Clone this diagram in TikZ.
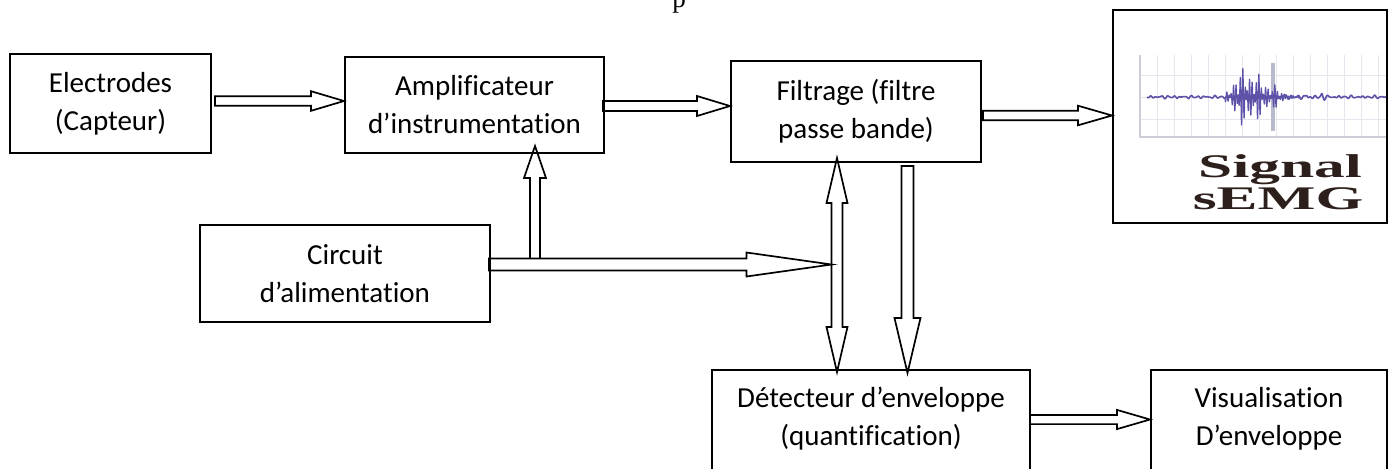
\documentclass[tikz,border=0pt]{standalone}
\usepackage{fontspec}
\setmainfont{Carlito}[Ligatures=NoCommon]
\newfontfamily\serifb{Liberation Serif}
\usepackage{graphicx}
\usetikzlibrary{calc}
\definecolor{sigc}{RGB}{92,82,168}
\definecolor{gridc}{RGB}{230,230,238}
\definecolor{axisc}{RGB}{205,205,215}
\definecolor{bandc}{RGB}{185,185,205}
\definecolor{sigtxt}{RGB}{45,32,28}

\tikzset{
  box/.style={draw, line width=1pt, inner sep=0pt, align=center,
    font=\fontsize{14.5pt}{19pt}\selectfont},
  txt/.style={inner sep=0pt, align=center, font=\fontsize{14.5pt}{19pt}\selectfont},
  blockline/.style={draw, line width=0.85pt, line join=miter},
  bigserif/.style={inner sep=0pt, anchor=base, text=sigtxt,
    font=\serifb\bfseries\fontsize{16.5pt}{16.5pt}\selectfont},
}

% #1 head length, #2 shaft half width, #3 head half width, #4 start, #5 tip
\newcommand{\blockarrow}[5]{%
  \coordinate (ba-s) at (#4);
  \coordinate (ba-t) at (#5);
  \coordinate (ba-h) at ($(ba-t)!#1!(ba-s)$);
  \path[blockline] ($(ba-s)!#2!90:(ba-t)$) -- ($(ba-h)!#2!90:(ba-t)$)
    -- ($(ba-h)!#3!90:(ba-t)$) -- (ba-t) -- ($(ba-h)!#3!-90:(ba-t)$)
    -- ($(ba-h)!#2!-90:(ba-t)$) -- ($(ba-s)!#2!-90:(ba-t)$) -- cycle;
}
% double headed
\newcommand{\blockdarrow}[5]{%
  \coordinate (bd-a) at (#4);
  \coordinate (bd-b) at (#5);
  \coordinate (bd-ha) at ($(bd-a)!#1!(bd-b)$);
  \coordinate (bd-hb) at ($(bd-b)!#1!(bd-a)$);
  \path[blockline] (bd-a) -- ($(bd-ha)!#3!90:(bd-b)$) -- ($(bd-ha)!#2!90:(bd-b)$)
    -- ($(bd-hb)!#2!-90:(bd-a)$) -- ($(bd-hb)!#3!-90:(bd-a)$) -- (bd-b)
    -- ($(bd-hb)!#3!90:(bd-a)$) -- ($(bd-hb)!#2!90:(bd-a)$)
    -- ($(bd-ha)!#2!-90:(bd-b)$) -- ($(bd-ha)!#3!-90:(bd-b)$) -- cycle;
}

\begin{document}
\begin{tikzpicture}[x=0.5pt, y=-0.5pt]
\useasboundingbox (0,0) rectangle (1389,468);

% stray text at the top
\node[inner sep=0pt, anchor=base, font=\serifb\fontsize{13.5pt}{13.5pt}\selectfont] (ptop) at (679,7) {p};

% boxes
\node[box, minimum width=100.5pt, minimum height=49.5pt] (E) at (110.5,103.5) {Electrodes\\(Capteur)};
\node[box, minimum width=129.5pt, minimum height=48pt] (A) at (474.5,105) {Amplificateur\\d’instrumentation};
\node[box, minimum width=125pt, minimum height=50.5pt] (F) at (856,111.5) {Filtrage (filtre\\passe bande)};
\node[box, minimum width=137pt, minimum height=106.5pt] (S) at (1250,116.5) {};
\node[box, minimum width=145pt, minimum height=48.5pt] (C) at (345,273.5) {Circuit\\d’alimentation};
\node[box, minimum width=159pt, minimum height=60pt] (D) at (871,430) {};
\node[txt] (Dt) at (871,418.5) {Détecteur d’enveloppe\\(quantification)};
\node[box, minimum width=118pt, minimum height=60pt] (V) at (1269,430) {};
\node[txt] (Vt) at (1269,418.5) {Visualisation\\D’enveloppe};

% sEMG picture inside S
\foreach \gx in {1157,1174,...,1387} \draw[gridc, line width=0.5pt] (\gx,55) -- (\gx,137);
\foreach \gy in {75,97,119} \draw[gridc, line width=0.5pt] (1140,\gy) -- (1386,\gy);
\draw[axisc, line width=0.7pt] (1140,55) -- (1140,137) -- (1386,137);
\fill[bandc] (1271,63) rectangle (1275,131);
% background activity and late spikes
\draw[sigc, line width=0.8pt, line join=round] plot[domain=7:246, samples=900]
  (\x+1140, {97 + (1.6 + 7/(1+((\x-145)/1.5)*((\x-145)/1.5)) + 6/(1+((\x-167)/1.5)*((\x-167)/1.5))
     + 5/(1+((\x-182)/1.5)*((\x-182)/1.5)))*(0.45*sin(61*\x) + 0.3*sin(47*\x+30) + 0.4*sin(61*\x)*cos(29*\x+10))});
% main burst
\draw[sigc, line width=0.55pt, line join=round] plot[domain=0:75, samples=700]
  (\x+1225, {97 + (27/(1+((\x-17)/7)*((\x-17)/7)) + 19/(1+((\x-33)/6)*((\x-33)/6))
     + 9/(1+((\x-50)/4)*((\x-50)/4)))*(0.55*sin(157*\x) + 0.45*sin(113*\x+40))});
\node[bigserif] (sig1) at (1280,177) {\scalebox{1.86}[1]{Signal}};
\node[bigserif] (sig2) at (1278,209) {\scalebox{1.86}[1]{sEMG}};

% arrows
\coordinate (a1s) at ($(E.east)+(3,-2.5)$);
\coordinate (a1t) at (a1s -| A.west);
\blockarrow{16.5pt}{2.4pt}{4.9pt}{a1s}{a1t}

\coordinate (a2s) at ($(A.east)+(-2,1)$);
\coordinate (a2t) at (a2s -| F.west);
\blockarrow{16.5pt}{2.5pt}{5pt}{a2s}{a2t}

\coordinate (a3s) at ($(F.east)+(1,4)$);
\coordinate (a3t) at (a3s -| S.west);
\blockarrow{17pt}{2.4pt}{4.9pt}{a3s}{a3t}

\coordinate (dtop) at ($(F.south)+(-19,-5)$);
\coordinate (dbot) at ($(dtop |- D.north)+(0,3)$);
\blockdarrow{22.5pt}{2.75pt}{5.25pt}{dtop}{dbot}

\coordinate (a4s) at ($(C.east)+(-2,-9)$);
\coordinate (a4t) at ($(a4s -| dtop)+(-5.5,0)$);
\blockarrow{42.5pt}{3pt}{6pt}{a4s}{a4t}

\coordinate (ds) at ($(F.south)+(51.5,3)$);
\coordinate (dt) at ($(ds |- D.north)+(0,4)$);
\blockarrow{27.5pt}{3pt}{6.5pt}{ds}{dt}

\coordinate (ut) at ($(A.south)+(60.5,-8)$);
\coordinate (us) at ($(ut |- a4s)+(0,-6)$);
\draw[blockline] ($(us)+(-5,0)$) -- ($(ut)+(-5,32)$) -- ($(ut)+(-11,32)$) -- (ut)
  -- ($(ut)+(11,32)$) -- ($(ut)+(5,32)$) -- ($(us)+(5,0)$);

\coordinate (vs) at ($(D.east)+(-1,-10.5)$);
\coordinate (vt) at (vs -| V.west);
\blockarrow{16.5pt}{2.3pt}{4.8pt}{vs}{vt}
\end{tikzpicture}
\end{document}
